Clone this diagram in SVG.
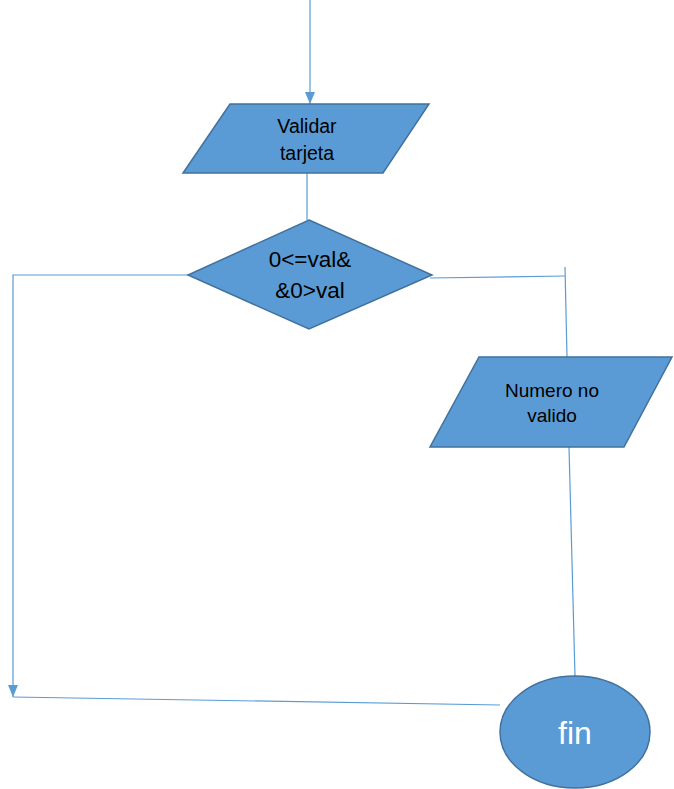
<svg xmlns="http://www.w3.org/2000/svg" width="674" height="789" viewBox="0 0 674 789">
<style>
.shape{fill:#5B9BD5;stroke:#41719C;stroke-width:1.5}
.conn{fill:none;stroke:#5B9BD5;stroke-width:1.2}
.lbl{font-family:"Liberation Sans",Arial,sans-serif;fill:#000;text-anchor:middle}
</style>
<defs>
<marker id="arr" viewBox="0 0 12 10" refX="12" refY="5" markerWidth="12" markerHeight="11" markerUnits="userSpaceOnUse" orient="auto">
<path d="M0,0 L12,5 L0,10 z" fill="#5B9BD5"/>
</marker>
</defs>
<rect width="674" height="789" fill="#fff"/>
<g id="connectors">
<line class="conn" x1="310" y1="0" x2="310" y2="104" marker-end="url(#arr)"/>
<line class="conn" x1="307" y1="173" x2="307" y2="220"/>
<polyline class="conn" points="188,275 13,275 13,697" marker-end="url(#arr)"/>
<line class="conn" x1="13" y1="697" x2="500" y2="705"/>
<polyline class="conn" points="430,278 565,276"/>
<line class="conn" x1="565" y1="267" x2="567" y2="357"/>
<line class="conn" x1="569" y1="447" x2="575" y2="676"/>
</g>
<g id="validar">
<polygon class="shape" points="230,104 429,104 383,173 183,173"/>
<text class="lbl" x="307" y="133" font-size="19.5">Validar</text>
<text class="lbl" x="307" y="160" font-size="19.5">tarjeta</text>
</g>
<g id="decision">
<polygon class="shape" points="309,220 432,275 309,329 188,275"/>
<text class="lbl" x="310" y="267" font-size="22.5">0&lt;=val&amp;</text>
<text class="lbl" x="310" y="298" font-size="22.5">&amp;0&gt;val</text>
</g>
<g id="numero">
<polygon class="shape" points="479,357 672,357 624,447 430,447"/>
<text class="lbl" x="552" y="397" font-size="19">Numero no</text>
<text class="lbl" x="552" y="422" font-size="19">valido</text>
</g>
<g id="fin">
<ellipse class="shape" cx="575" cy="732" rx="75" ry="56"/>
<text x="575" y="744" font-size="32" fill="#fff" text-anchor="middle" font-family="'Liberation Sans',Arial,sans-serif">fin</text>
</g>
</svg>
